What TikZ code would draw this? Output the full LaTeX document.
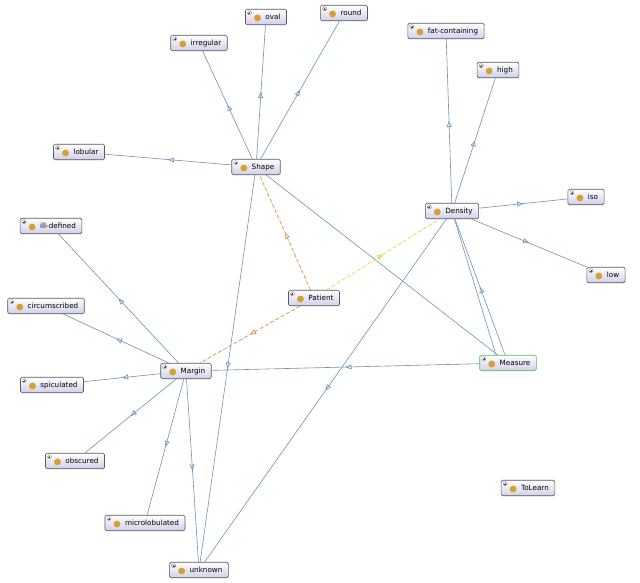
\documentclass[tikz,border=0pt]{standalone}
\usepackage{fontspec}
\setmainfont{DejaVu Sans}
\usetikzlibrary{arrows.meta,decorations.markings,shadings}
\definecolor{edge}{HTML}{6F93B3}
\definecolor{orng}{HTML}{D9924A}
\definecolor{yel}{HTML}{F0D048}
\definecolor{gold}{HTML}{D4A030}
\definecolor{lav}{HTML}{CFCFEA}
\tikzset{
 cls/.style={rounded corners=1.5pt,draw=black!65,line width=0.6pt,top color=white,bottom color=lav,
  minimum height=15.5pt,inner sep=2pt,inner xsep=6pt,font=\fontsize{7.2}{8}\selectfont,
  text depth=0pt,anchor=center,
  path picture={
   \draw[black!60,fill=white,line width=0.3pt] ([xshift=2pt,yshift=-1.5pt]path picture bounding box.north west) rectangle ++(4pt,-4pt);
   \draw[black!70,line width=0.3pt] ([xshift=3pt,yshift=-3.5pt]path picture bounding box.north west) -- ++(2pt,0) ([xshift=4pt,yshift=-2.5pt]path picture bounding box.north west) -- ++(0,-2pt);
   \fill[gold] ([xshift=12pt,yshift=-1pt]path picture bounding box.west) circle (3.4pt);
  }},
 isa/.style={draw=edge,line width=0.6pt,postaction={decorate},decoration={markings,mark=at position 0.5 with {\arrow{Triangle[open,length=6pt,width=5pt]}}}},
 plain/.style={draw=edge,line width=0.6pt},
 rel/.style={line width=0.7pt,dashed,dash pattern=on 4pt off 2pt,postaction={decorate},decoration={markings,mark=at position 0.5 with {\arrow{Triangle[open,length=6pt,width=5pt]}}}},
}
\newcommand{\lbl}[1]{\hspace*{14pt}#1}
\begin{document}
\begin{tikzpicture}[x=1pt,y=-1pt]
\useasboundingbox[fill=white] (0,0) rectangle (640,582);
\node[cls] (oval) at (266,17) {\lbl{oval}};
\node[cls] (round) at (344,13) {\lbl{round}};
\node[cls] (irregular) at (199,43) {\lbl{irregular}};
\node[cls] (fat) at (446,31) {\lbl{fat-containing}};
\node[cls] (high) at (498,70) {\lbl{high}};
\node[cls] (lobular) at (79,152) {\lbl{lobular}};
\node[cls] (shape) at (256,167) {\lbl{Shape}};
\node[cls] (density) at (452,211) {\lbl{Density}};
\node[cls] (iso) at (586,197) {\lbl{iso}};
\node[cls] (ill) at (51,226) {\lbl{ill-defined}};
\node[cls] (low) at (606,275) {\lbl{low}};
\node[cls] (patient) at (314,298) {\lbl{Patient}};
\node[cls] (circ) at (46,306) {\lbl{circumscribed}};
\node[cls] (margin) at (186,371) {\lbl{Margin}};
\node[cls,draw=green!65!black!70] (measure) at (508,363) {\lbl{Measure}};
\node[cls] (spic) at (52,385) {\lbl{spiculated}};
\node[cls] (obsc) at (75,461) {\lbl{obscured}};
\node[cls] (tolearn) at (528,488) {\lbl{ToLearn}};
\node[cls] (micro) at (145,523) {\lbl{microlobulated}};
\node[cls] (unknown) at (199,570) {\lbl{unknown}};
\path[isa] (shape) -- (oval);
\path[isa] (shape) -- (round);
\path[isa] (shape) -- (irregular);
\path[isa] (shape) -- (lobular);
\path[isa] (shape) -- (unknown);
\path[plain] (shape) -- (measure);
\path[isa] (density) -- (fat);
\path[isa] (density) -- (high);
\path[isa] (density) -- (iso);
\path[isa] (density) -- (low);
\path[isa] (density) -- (unknown);
\path[isa] (measure) -- (density);
\path[plain] ([xshift=-12pt]measure.north) -- (density);
\path[isa] (measure) -- (margin);
\path[isa] (margin) -- (ill);
\path[isa] (margin) -- (circ);
\path[isa] (margin) -- (spic);
\path[isa] (margin) -- (obsc);
\path[isa] (margin) -- (micro);
\path[isa] (margin) -- (unknown);
\path[rel,draw=orng] (patient) -- (shape);
\path[rel,draw=orng] (patient) -- (margin);
\path[rel,draw=yel] (patient) -- (density);
\end{tikzpicture}
\end{document}
